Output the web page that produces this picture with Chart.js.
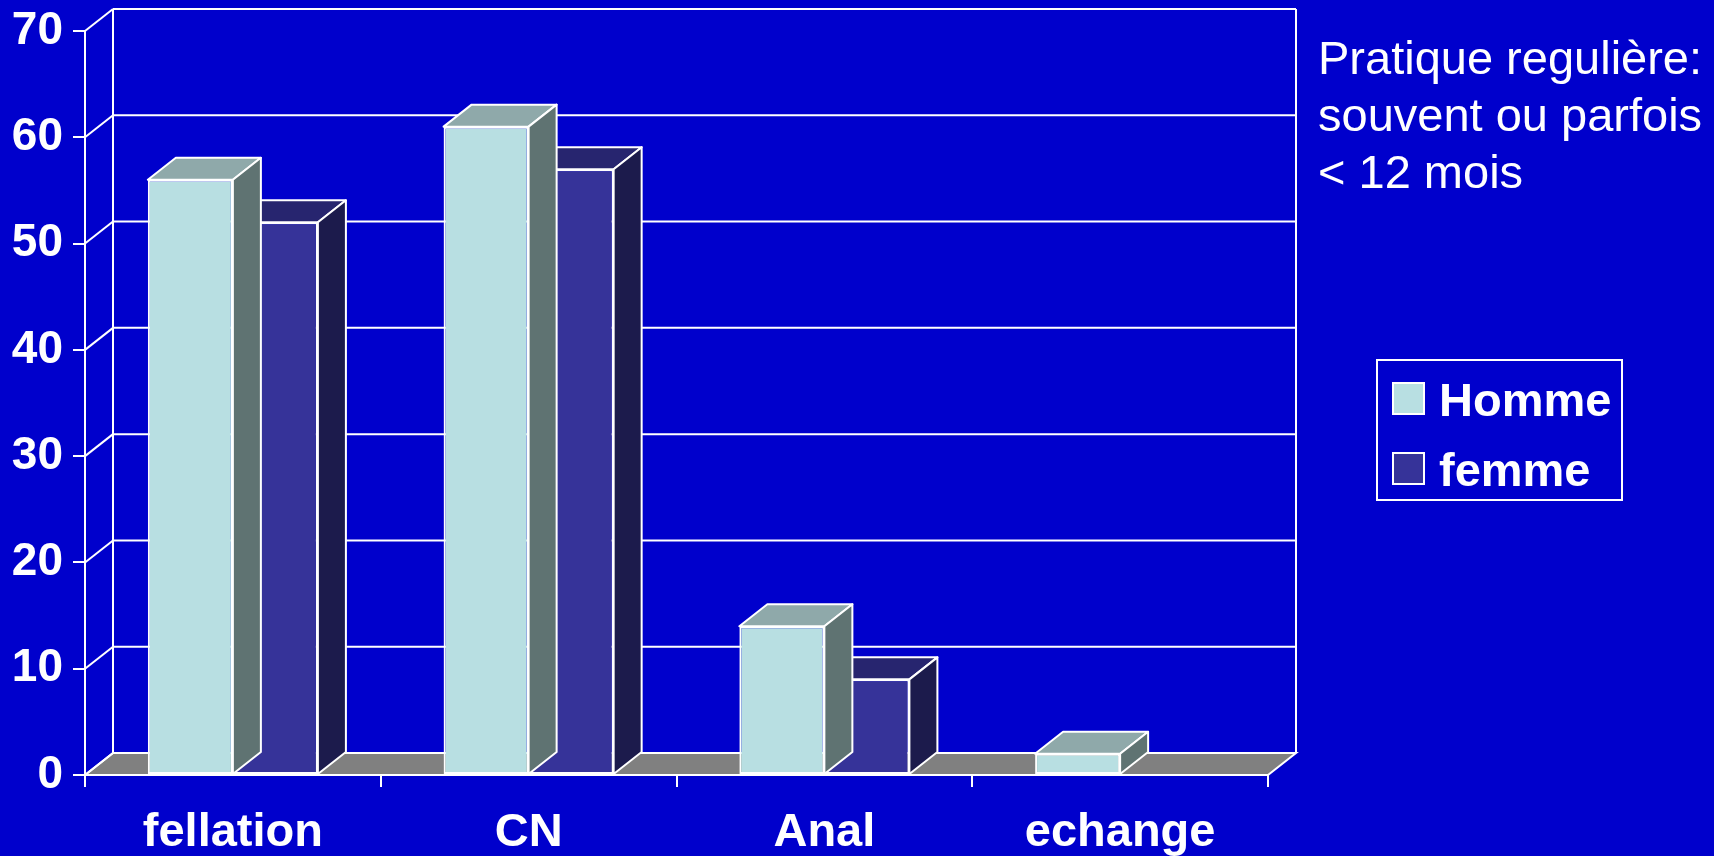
<!DOCTYPE html>
<html>
<head>
<meta charset="utf-8">
<script src="https://cdn.jsdelivr.net/npm/chart.js@4"></script>
<style>
html,body{margin:0;padding:0;background:#0000cc;overflow:hidden;}
</style>
</head>
<body>
<canvas id="c" width="1714" height="856"></canvas>
<script>
const categories=["fellation","CN","Anal","echange"];
const homme=[56,61,14,2];
const femme=[52,57,9,0];
const seriesNames=["Homme","femme"];
const noteLines=["Pratique regulière:","souvent ou parfois","< 12 mois"];

const FONT="'Liberation Sans', Arial, sans-serif";
const DX=28, DY=-22; // depth of the fake 3d box
const faces=[
 {front:"#b8dfe2", top:"#8fa9aa", side:"#5f7372"},
 {front:"#363399", top:"#27256f", side:"#1c1b4c"}
];

function seg(ctx,x1,y1,x2,y2){ ctx.beginPath(); ctx.moveTo(x1,y1); ctx.lineTo(x2,y2); ctx.stroke(); }
function poly(ctx,pts,fill){
 ctx.beginPath(); ctx.moveTo(pts[0][0],pts[0][1]);
 for(let i=1;i<pts.length;i++) ctx.lineTo(pts[i][0],pts[i][1]);
 ctx.closePath(); ctx.fillStyle=fill; ctx.fill(); ctx.stroke();
}

const depth3d={
 id:"depth3d",
 beforeDatasetsDraw(chart){
  const {ctx, chartArea:a, scales:{y}}=chart;
  const y0=y.getPixelForValue(0), yTop=y.getPixelForValue(y.max);
  ctx.save();
  ctx.strokeStyle="#fff"; ctx.lineWidth=2;
  // floor
  poly(ctx,[[a.left,y0],[a.left+DX,y0+DY],[a.right+DX,y0+DY],[a.right,y0]],"#808080");
  // back wall grid + diagonals from the front axis
  y.ticks.forEach(t=>{
   const py=y.getPixelForValue(t.value);
   seg(ctx,a.left,py,a.left+DX,py+DY);
   seg(ctx,a.left+DX,py+DY,a.right+DX,py+DY);
  });
  seg(ctx,a.left+DX,yTop+DY,a.left+DX,y0+DY);
  seg(ctx,a.right+DX,yTop+DY,a.right+DX,y0+DY);
  ctx.restore();
 },
 afterDatasetDraw(chart,args){
  const {ctx}=chart;
  const ds=chart.data.datasets[args.index];
  const col=faces[args.index];
  ctx.save();
  ctx.strokeStyle="#fff"; ctx.lineWidth=2; ctx.lineJoin="round";
  args.meta.data.forEach((bar,i)=>{
   if(!ds.data[i]) return;
   const {x,y,base,width}=bar.getProps(["x","y","base","width"],true);
   const l=x-width/2, r=x+width/2;
   poly(ctx,[[l,y],[l+DX,y+DY],[r+DX,y+DY],[r,y]],col.top);
   poly(ctx,[[r,y],[r+DX,y+DY],[r+DX,base+DY],[r,base]],col.side);
  });
  ctx.restore();
 },
 afterDraw(chart){
  const {ctx}=chart;
  ctx.save();
  ctx.fillStyle="#fff";
  ctx.textBaseline="alphabetic";
  ctx.font="47px "+FONT;
  noteLines.forEach((s,i)=>ctx.fillText(s,1318,74+i*57));
  // legend box
  ctx.strokeStyle="#fff"; ctx.lineWidth=2;
  ctx.strokeRect(1377,360,245,140);
  ctx.font="bold 47px "+FONT;
  chart.data.datasets.forEach((d,i)=>{
   const sy=383+i*70;
   ctx.fillStyle=d.backgroundColor;
   ctx.fillRect(1393,sy,31,31);
   ctx.strokeRect(1393,sy,31,31);
   ctx.fillStyle="#fff";
   ctx.fillText(d.label,1439,sy+33);
  });
  ctx.restore();
 }
};

new Chart(document.getElementById("c"),{
 type:"bar",
 data:{
  labels:categories,
  datasets:[
   {label:seriesNames[0],data:homme,backgroundColor:faces[0].front},
   {label:seriesNames[1],data:femme,backgroundColor:faces[1].front}
  ]
 },
 options:{
  responsive:false,
  animation:false,
  devicePixelRatio:1,
  layout:{padding:{top:31,right:446,bottom:0,left:0}},
  datasets:{bar:{
   categoryPercentage:0.575,barPercentage:1,
   borderColor:"#fff",borderSkipped:false,
   borderWidth:c=>c.raw?2:0
  }},
  plugins:{legend:{display:false},tooltip:{enabled:false}},
  scales:{
   x:{
    ticks:{color:"#fff",font:{family:FONT,size:47,weight:"bold"},padding:18,maxRotation:0},
    grid:{drawOnChartArea:false,drawTicks:true,tickLength:12,color:"#fff",lineWidth:2,offset:true},
    border:{color:"#fff",width:2},
    afterFit(s){ s.height=81; s.paddingLeft=0; s.paddingRight=0; }
   },
   y:{
    min:0,max:70,
    ticks:{stepSize:10,color:"#fff",font:{family:FONT,size:46,weight:"bold"},padding:10},
    grid:{drawOnChartArea:false,drawTicks:true,tickLength:12,color:"#fff",lineWidth:2},
    border:{color:"#fff",width:2},
    afterFit(s){ s.width=85; s.paddingTop=0; s.paddingBottom=0; }
   }
  }
 },
 plugins:[depth3d]
});
</script>
</body>
</html>
